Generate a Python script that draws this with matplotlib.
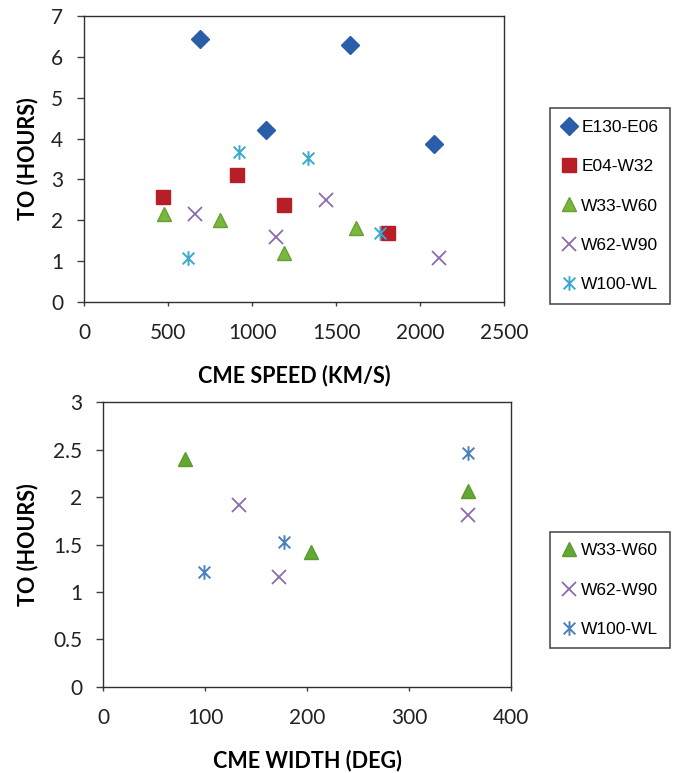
import matplotlib
matplotlib.use("Agg")
import matplotlib.pyplot as plt
from matplotlib.path import Path

# ---- data: top panel (CME speed vs TO) ----
e130_speed = [690, 1580, 1080, 2080]
e130_to = [6.43, 6.30, 4.20, 3.87]
e04_speed = [470, 910, 1190, 1810]
e04_to = [2.58, 3.10, 2.38, 1.68]
w33_speed = [475, 810, 1190, 1620]
w33_to = [2.15, 2.00, 1.20, 1.80]
w62_speed = [660, 1140, 1440, 2110]
w62_to = [2.15, 1.60, 2.50, 1.08]
w100_speed = [620, 920, 1330, 1760]
w100_to = [1.08, 3.68, 3.52, 1.68]

# ---- data: bottom panel (CME width vs TO) ----
w33_width = [80, 204, 358]
w33_to_b = [2.40, 1.42, 2.06]
w62_width = [133, 173, 358]
w62_to_b = [1.92, 1.16, 1.81]
w100_width = [99, 177, 358]
w100_to_b = [1.21, 1.53, 2.46]

# Excel-style star marker: X plus vertical line
star = Path([(0, -1), (0, 1), (-0.8, -0.8), (0.8, 0.8), (-0.8, 0.8), (0.8, -0.8)],
            [Path.MOVETO, Path.LINETO, Path.MOVETO, Path.LINETO, Path.MOVETO, Path.LINETO])

fig = plt.figure(figsize=(6.99, 7.73), dpi=100)
FAM = ["Lato", "DejaVu Sans"]
tick_size = 15
lab_font = dict(family=FAM, size=15.5, weight="bold")
leg_prop = dict(family="Liberation Sans", size=12.5)


def style(ax):
    for s in ax.spines.values():
        s.set_color("#303030")
        s.set_linewidth(1.0)
    ax.tick_params(axis="y", direction="out", length=5, width=1, color="#404040", pad=10)
    ax.tick_params(axis="x", direction="out", length=3, width=1, color="#404040", pad=12)
    for t in ax.get_xticklabels() + ax.get_yticklabels():
        t.set_fontfamily(FAM)
        t.set_fontsize(tick_size)
        t.set_color("#222222")


def legend(ax, y, spacing):
    leg = ax.legend(loc="upper left", bbox_to_anchor=(0.787, y), bbox_transform=fig.transFigure,
                    frameon=True, fancybox=False, edgecolor="#222222", handlelength=0.9,
                    handletextpad=0.25, labelspacing=spacing, borderpad=0.65, borderaxespad=0,
                    prop=leg_prop)
    leg.get_frame().set_linewidth(1.2)
    return leg


# ---------------- top ----------------
ax1 = fig.add_axes([0.1202, 0.6093, 0.601, 0.370])
ax1.plot(e130_speed, e130_to, ls="none", marker="D", ms=9, mfc="#2A5EA8", mec="#2A5EA8", label="E130-E06")
ax1.plot(e04_speed, e04_to, ls="none", marker="s", ms=10.5, mfc="#B81E27", mec="#B81E27", label="E04-W32")
ax1.plot(w33_speed, w33_to, ls="none", marker="^", ms=10, mfc="#78B83C", mec="#6A9E35", label="W33-W60")
ax1.plot(w62_speed, w62_to, ls="none", marker="x", ms=10.5, mew=1.3, color="#8B6BAE", label="W62-W90")
ax1.plot(w100_speed, w100_to, ls="none", marker=star, ms=10.5, mew=1.4, mfc="none", mec="#3AA9D0", label="W100-WL")
ax1.set_xlim(0, 2500)
ax1.set_ylim(0, 7)
ax1.set_xticks([0, 500, 1000, 1500, 2000, 2500])
ax1.set_yticks(range(0, 8))
style(ax1)
ax1.set_xlabel("CME SPEED (KM/S)", labelpad=16, **lab_font)
ax1.set_ylabel("TO (HOURS)", **lab_font)
ax1.yaxis.set_label_coords((38 - 84) / 420, 0.5)
legend(ax1, 0.860, 1.4)

# ---------------- bottom ----------------
ax2 = fig.add_axes([0.1474, 0.1113, 0.5837, 0.3686])
ax2.plot(w33_width, w33_to_b, ls="none", marker="^", ms=10, mfc="#62A832", mec="#5A9A2E", label="W33-W60")
ax2.plot(w62_width, w62_to_b, ls="none", marker="x", ms=10.5, mew=1.3, color="#8B6BAE", label="W62-W90")
ax2.plot(w100_width, w100_to_b, ls="none", marker=star, ms=10.5, mew=1.4, mfc="none", mec="#4A7FC0", label="W100-WL")
ax2.set_xlim(0, 400)
ax2.set_ylim(0, 3)
ax2.set_xticks([0, 100, 200, 300, 400])
ax2.set_yticks([0, 0.5, 1, 1.5, 2, 2.5, 3])
ax2.set_yticklabels(["0", "0.5", "1", "1.5", "2", "2.5", "3"])
style(ax2)
ax2.set_xlabel("CME WIDTH (DEG)", labelpad=16, **lab_font)
ax2.set_ylabel("TO (HOURS)", **lab_font)
ax2.yaxis.set_label_coords((38 - 103) / 408, 0.5)
legend(ax2, 0.312, 1.4)

fig.savefig("out.png", dpi=100, facecolor="white")
